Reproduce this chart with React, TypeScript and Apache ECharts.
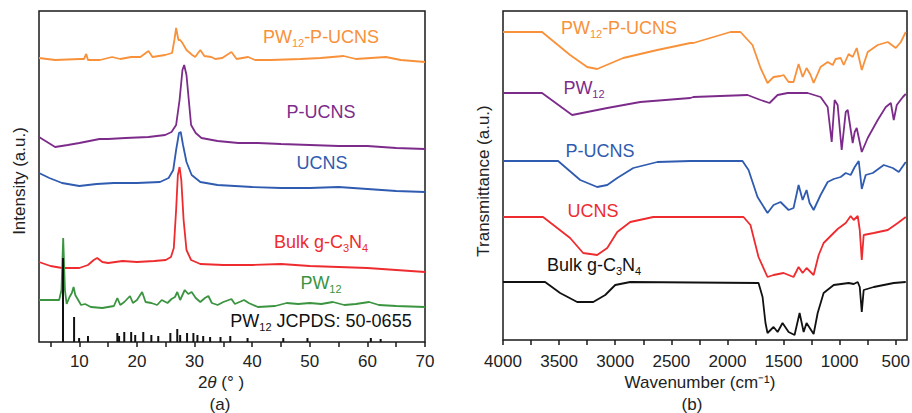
import React, { useEffect, useRef } from 'react';
import * as echarts from 'echarts';

// ---------- Panel (a): XRD, values = offset intensity (a.u.) ----------
const xrdPW12PUCNS: [number, number][] = [
  [3, 284], [5.8, 282], [10.1, 283], [10.8, 283], [11.2, 288], [11.5, 282], [13.6, 282], [15.7, 285],
  [17.1, 283], [19, 285], [20.6, 285], [22, 291], [22.7, 285], [24.9, 287], [26.1, 289], [26.5, 302],
  [26.8, 314], [27.2, 302], [27.5, 302], [27.9, 299], [28.6, 292], [29.6, 287], [30.1, 285], [31, 292],
  [31.7, 286], [32.9, 285], [33.6, 283], [34.8, 284], [36.4, 290], [37.3, 283], [39.3, 285], [40.5, 282],
  [43.2, 282], [48.4, 283], [51.9, 284], [55.9, 286], [58, 283], [63.2, 285], [65.8, 282], [70, 280],
];
const xrdPUCNS: [number, number][] = [
  [3, 205], [5.8, 195], [8, 197], [10, 199], [13.5, 203], [15, 203], [18, 204], [22, 205], [24.9, 207],
  [26, 210], [26.8, 217], [27.4, 242], [27.9, 272], [28.2, 277], [28.6, 267], [29, 242], [29.4, 217],
  [30.2, 209], [31.2, 204], [34, 201], [37.6, 199], [41, 199], [45, 198], [50, 197], [55, 196], [60, 196],
  [65, 194], [70, 193],
];
const xrdUCNS: [number, number][] = [
  [3, 169], [4.8, 164], [7, 159], [10, 156], [13, 158], [16, 159], [20, 159], [24, 160], [25.5, 164],
  [26.3, 172], [26.8, 192], [27.3, 209], [27.6, 210], [28, 197], [28.6, 180], [29.5, 167], [31, 160],
  [34, 157], [40, 155], [45, 154], [50, 154], [55, 155], [60, 153], [65, 151], [70, 150],
];
const xrdBulk: [number, number][] = [
  [3, 80], [5, 76], [7, 74], [10, 74], [11.5, 77], [12.5, 82], [13.1, 84], [14, 80], [15, 79], [17.5, 81],
  [20, 80], [23, 81], [25, 82], [25.9, 85], [26.4, 94], [26.8, 132], [27.1, 167], [27.4, 175], [27.7, 162],
  [28.1, 122], [28.6, 92], [29.4, 82], [31, 78], [35, 77], [40, 77], [45, 78], [50, 76], [55, 75], [60, 74],
  [65, 72], [70, 70],
];
const xrdPW12: [number, number][] = [
  [3, 42], [5, 42], [6.5, 42], [6.9, 52], [7.2, 104], [7.5, 52], [7.8, 38], [8.3, 45], [8.7, 49], [9, 55],
  [9.3, 47], [9.6, 44], [10.3, 37], [11, 38], [12, 35], [14, 34], [16, 36], [16.6, 44], [17.1, 37],
  [17.8, 40], [18.8, 46], [19.3, 39], [20, 42], [20.9, 50], [21.5, 40], [22.5, 39], [23.5, 37], [24.3, 42],
  [25.3, 39], [26, 43], [26.6, 45], [27, 50], [27.5, 42], [28.3, 52], [28.9, 48], [29.5, 50], [30.2, 44],
  [31, 40], [31.8, 44], [32.4, 46], [33, 39], [34, 37], [35, 40], [36.4, 43], [37, 38], [38.6, 42],
  [39.4, 39], [41, 35], [44, 36], [46, 39], [48, 38], [50, 39], [52, 38], [54, 40], [56, 37], [58, 38],
  [60.3, 40], [62, 37], [65, 36], [70, 35],
];
const jcpdsPos: number[] = [
  7.17, 9.09, 9.96, 11.5, 16.6, 16.9, 17.8, 19.0, 19.7, 21.1, 22.5, 23.7, 25.8, 27.0, 27.5, 28.7, 29.8,
  30.5, 31.5, 32.7, 34.5, 36.2, 39.2, 45.4, 49.6, 60.6, 62.3,
];
const jcpdsInt: number[] = [
  84, 25, 4, 6, 9, 6, 10, 10, 7, 10, 7, 6, 9, 13, 7, 9, 9, 7, 6, 5, 5, 6, 4, 4, 4, 4, 3,
];
const xrdTicks: number[] = [5, 10, 15, 20, 25, 30, 35, 40, 45, 50, 55, 60, 65, 70];
const xrdLabels: number[] = [10, 20, 30, 40, 50, 60, 70];

// ---------- Panel (b): FTIR, values = offset transmittance (a.u.) ----------
const irPW12PUCNS: [number, number][] = [
  [4000, 308], [3652, 308], [3402, 285], [3250, 273], [3161, 271], [2929, 282], [2625, 290], [2330, 297],
  [2304, 297], [1973, 308], [1884, 308], [1777, 295], [1705, 272], [1643, 257], [1589, 263], [1527, 264],
  [1500, 265], [1455, 258], [1411, 258], [1366, 276], [1330, 263], [1295, 272], [1259, 265], [1232, 257],
  [1170, 273], [1107, 278], [1062, 275], [1036, 281], [991, 282], [964, 275], [920, 286], [884, 283],
  [848, 292], [803, 270], [750, 288], [661, 295], [571, 298], [500, 292], [455, 298], [411, 308],
];
const irPW12: [number, number][] = [
  [4000, 247], [3652, 247], [3384, 225], [3071, 232], [2777, 238], [2330, 242], [2304, 243], [1821, 245],
  [1705, 240], [1625, 237], [1553, 245], [1464, 247], [1286, 247], [1170, 243], [1107, 233], [1071, 198],
  [1045, 240], [1018, 235], [982, 190], [946, 228], [928, 230], [884, 197], [866, 208], [848, 212],
  [803, 188], [750, 202], [661, 220], [589, 233], [544, 237], [518, 220], [491, 235], [437, 243], [411, 246],
];
const irPUCNS: [number, number][] = [
  [4000, 179], [3509, 179], [3312, 160], [3161, 153], [3071, 155], [2982, 162], [2839, 172], [2625, 178],
  [2330, 179], [1866, 179], [1812, 170], [1732, 143], [1643, 127], [1589, 135], [1527, 138], [1455, 130],
  [1411, 132], [1366, 155], [1330, 140], [1295, 150], [1268, 137], [1232, 130], [1170, 145], [1107, 158],
  [1053, 161], [991, 163], [946, 167], [902, 165], [866, 173], [830, 179], [803, 151], [768, 165],
  [705, 167], [607, 175], [527, 172], [473, 168], [411, 178],
];
const irUCNS: [number, number][] = [
  [4000, 123], [3643, 123], [3402, 102], [3286, 87], [3161, 85], [3071, 92], [2982, 108], [2866, 118],
  [2661, 123], [1857, 123], [1795, 115], [1723, 83], [1643, 63], [1589, 65], [1500, 67], [1411, 63],
  [1366, 73], [1330, 67], [1295, 72], [1232, 65], [1187, 85], [1143, 97], [1018, 111], [946, 117],
  [902, 124], [875, 120], [839, 124], [821, 110], [803, 80], [786, 105], [696, 107], [571, 110],
  [482, 117], [411, 123],
];
const irBulk: [number, number][] = [
  [4000, 58], [3625, 58], [3491, 47], [3339, 38], [3196, 38], [3089, 45], [3000, 55], [2866, 58],
  [1723, 57], [1687, 43], [1661, 17], [1643, 7], [1589, 13], [1553, 8], [1509, 17], [1455, 8], [1402, 5],
  [1357, 27], [1321, 8], [1295, 17], [1232, 6], [1196, 27], [1143, 47], [1053, 55], [920, 57], [875, 56],
  [839, 58], [821, 53], [803, 28], [786, 50], [696, 53], [518, 57], [411, 58],
];
const irTicks: number[] = [
  500, 750, 1000, 1250, 1500, 1750, 2000, 2250, 2500, 2750, 3000, 3250, 3500, 3750, 4000,
];
const irLabels: number[] = [500, 1000, 1500, 2000, 2500, 3000, 3500, 4000];

const C = {
  orange: '#F8913A',
  purple: '#7D2B8B',
  blue: '#2F5BB0',
  red: '#EE2B2E',
  green: '#3B9440',
  black: '#111111',
  axis: '#1a1a1a',
};
const FONT = "'Liberation Sans', Arial, Helvetica, sans-serif";

function label(x: number, y: number, parts: [string, boolean][], color: string, size = 18, rotate = 0) {
  const text = parts.map(([t, sub]) => (sub ? `{s|${t}}` : `{n|${t}}`)).join('');
  return {
    type: 'text',
    x,
    y,
    rotation: rotate,
    style: {
      text,
      textAlign: 'center',
      textVerticalAlign: 'middle',
      fill: color,
      font: `${size}px ${FONT}`,
      rich: {
        n: { fontSize: size, fontFamily: FONT, lineHeight: size + 5, fill: color, color },
        s: { fontSize: Math.round(size * 0.62), fontFamily: FONT, lineHeight: Math.round(size * 0.62), verticalAlign: 'bottom', fill: color, color },
      },
    },
  };
}

function lineSeries(name: string, data: [number, number][], color: string, idx: number) {
  return {
    name,
    type: 'line',
    xAxisIndex: idx,
    yAxisIndex: idx,
    data,
    showSymbol: false,
    symbol: 'none',
    lineStyle: { color, width: 1.8 },
    itemStyle: { color },
    z: 3,
  };
}

export default function App() {
  const ref = useRef<HTMLDivElement>(null);
  useEffect(() => {
    if (!ref.current) return;
    const chart = echarts.init(ref.current, null, { renderer: 'svg' });
    const axisCommon = {
      axisLine: { show: false },
      splitLine: { show: false },
    };
    const fmt = (v: number) => String(v);
    chart.setOption({
      animation: false,
      backgroundColor: '#ffffff',
      grid: [
        { left: 39, top: 11, width: 386, height: 331, show: true, borderColor: C.axis, borderWidth: 1.5, backgroundColor: 'transparent', containLabel: false, outerBoundsMode: 'none' },
        { left: 503, top: 11, width: 404, height: 329, show: true, borderColor: C.axis, borderWidth: 1.5, backgroundColor: 'transparent', containLabel: false, outerBoundsMode: 'none' },
      ],
      xAxis: [
        {
          type: 'value', gridIndex: 0, min: 3, max: 70, ...axisCommon,
          axisTick: { show: true, inside: false, length: 5, customValues: xrdTicks, lineStyle: { color: C.axis, width: 1.5 } },
          axisLabel: { show: true, customValues: xrdLabels, formatter: fmt, margin: 11, color: '#222', fontSize: 17, fontFamily: FONT },
        },
        {
          type: 'value', gridIndex: 1, min: 400, max: 4000, inverse: true, ...axisCommon,
          axisTick: { show: true, inside: false, length: 5, customValues: irTicks, lineStyle: { color: C.axis, width: 1.5 } },
          axisLabel: { show: true, customValues: irLabels, formatter: fmt, margin: 13, color: '#222', fontSize: 17, fontFamily: FONT },
        },
      ],
      yAxis: [
        { type: 'value', gridIndex: 0, min: 0, max: 331, ...axisCommon, axisTick: { show: false }, axisLabel: { show: false } },
        { type: 'value', gridIndex: 1, min: 0, max: 329, ...axisCommon, axisTick: { show: false }, axisLabel: { show: false } },
      ],
      series: [
        lineSeries('PW12-P-UCNS', xrdPW12PUCNS, C.orange, 0),
        lineSeries('P-UCNS', xrdPUCNS, C.purple, 0),
        lineSeries('UCNS', xrdUCNS, C.blue, 0),
        lineSeries('Bulk g-C3N4', xrdBulk, C.red, 0),
        lineSeries('PW12', xrdPW12, C.green, 0),
        {
          name: 'PW12 JCPDS: 50-0655',
          type: 'bar',
          xAxisIndex: 0,
          yAxisIndex: 0,
          barWidth: 2,
          data: jcpdsPos.map((p, i) => [p, jcpdsInt[i]]),
          itemStyle: { color: C.black },
          z: 4,
        },
        lineSeries('PW12-P-UCNS (IR)', irPW12PUCNS, C.orange, 1),
        lineSeries('PW12 (IR)', irPW12, C.purple, 1),
        lineSeries('P-UCNS (IR)', irPUCNS, C.blue, 1),
        lineSeries('UCNS (IR)', irUCNS, C.red, 1),
        lineSeries('Bulk g-C3N4 (IR)', irBulk, C.black, 1),
      ],
      graphic: [
        // panel (a) curve labels
        label(321, 37, [['PW', false], ['12', true], ['-P-UCNS', false]], C.orange),
        label(321, 112, [['P-UCNS', false]], C.purple),
        label(322, 163, [['UCNS', false]], C.blue),
        label(321, 242, [['Bulk g-C', false], ['3', true], ['N', false], ['4', true]], C.red),
        label(321, 283, [['PW', false], ['12', true]], C.green),
        label(321, 321, [['PW', false], ['12', true], [' JCPDS: 50-0655', false]], C.black),
        // panel (a) axis titles
        label(19, 181, [['Intensity (a.u.)', false]], '#222', 17, Math.PI / 2),
        {
          type: 'text', x: 221, y: 382,
          style: {
            text: '{n|2}{i|θ}{n| (° )}', textAlign: 'center', textVerticalAlign: 'middle', fill: '#222',
            font: `17px ${FONT}`,
            rich: {
              n: { fontSize: 17, fontFamily: FONT, fill: '#222' },
              i: { fontSize: 17, fontFamily: FONT, fontStyle: 'italic', fill: '#222' },
            },
          },
        },
        label(220, 404, [['(a)', false]], '#222', 17),
        // panel (b) curve labels
        label(619, 28, [['PW', false], ['12', true], ['-P-UCNS', false]], C.orange),
        label(584, 88, [['PW', false], ['12', true]], C.purple),
        label(600, 151, [['P-UCNS', false]], C.blue),
        label(593, 211, [['UCNS', false]], C.red),
        label(594, 265, [['Bulk g-C', false], ['3', true], ['N', false], ['4', true]], C.black),
        // panel (b) axis titles
        label(483, 181, [['Transmittance (a.u.)', false]], '#222', 17, Math.PI / 2),
        label(700, 382, [['Wavenumber (cm⁻¹)', false]], '#222', 17),
        label(692, 404, [['(b)', false]], '#222', 17),
      ],
    });
    return () => chart.dispose();
  }, []);
  return (
    <div
      ref={ref}
      style={{ position: 'absolute', left: 0, top: 0, width: 912, height: 413, background: '#fff' }}
    />
  );
}
